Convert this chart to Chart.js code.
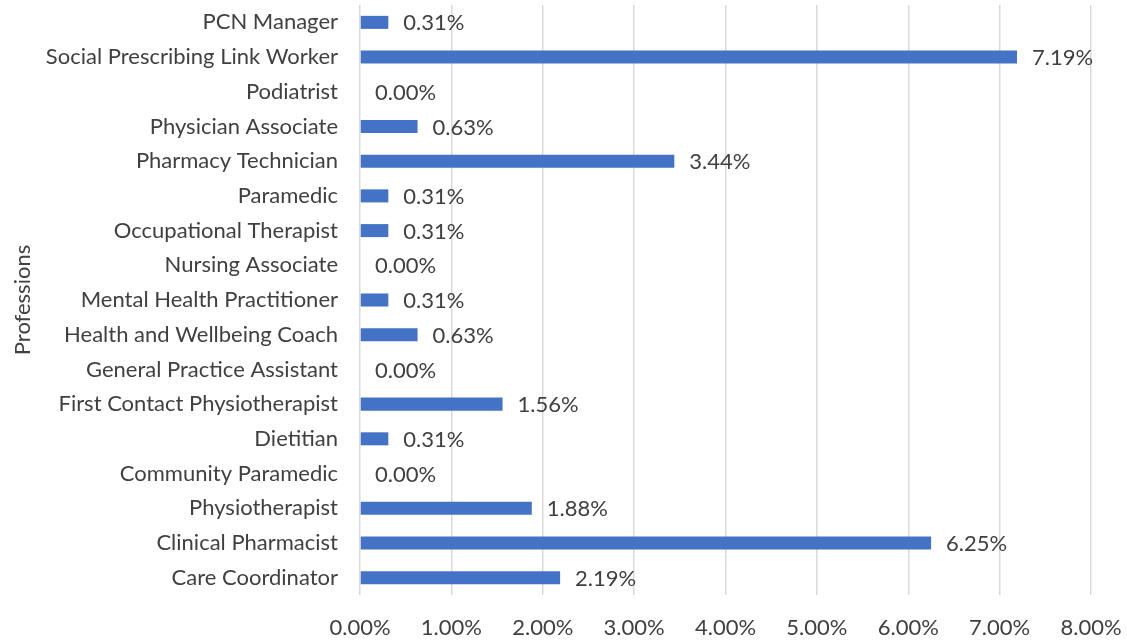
<!DOCTYPE html>
<html>
<head>
<meta charset="utf-8">
<script src="https://cdn.jsdelivr.net/npm/chart.js@4.4.1/dist/chart.umd.min.js"></script>
<style>
  html, body { margin: 0; padding: 0; background: #fff; }
</style>
</head>
<body>
<canvas id="chart" width="1127" height="642"></canvas>
<script>
// professions, top to bottom
const professions = [
  'PCN Manager',
  'Social Prescribing Link Worker',
  'Podiatrist',
  'Physician Associate',
  'Pharmacy Technician',
  'Paramedic',
  'Occupational Therapist',
  'Nursing Associate',
  'Mental Health Practitioner',
  'Health and Wellbeing Coach',
  'General Practice Assistant',
  'First Contact Physiotherapist',
  'Dietitian',
  'Community Paramedic',
  'Physiotherapist',
  'Clinical Pharmacist',
  'Care Coordinator'
];
const shares = [0.31, 7.19, 0.00, 0.63, 3.44, 0.31, 0.31, 0.00, 0.31, 0.63, 0.00, 1.56, 0.31, 0.00, 1.88, 6.25, 2.19];
const xMax = 8;
const xStep = 1;

const FONT = 'Lato, "Open Sans", sans-serif';
const FONT_SIZE = 22;
const TEXT = '#404040';

// writes the percentage just past the end of each bar
const barLabels = {
  id: 'barLabels',
  afterDatasetsDraw(chart) {
    const ctx = chart.ctx;
    const meta = chart.getDatasetMeta(0);
    ctx.save();
    ctx.font = FONT_SIZE + 'px ' + FONT;
    ctx.fillStyle = TEXT;
    ctx.textAlign = 'left';
    ctx.textBaseline = 'middle';
    meta.data.forEach((bar, i) => {
      ctx.fillText(shares[i].toFixed(2) + '%', bar.x + 15, bar.y + 1);
    });
    ctx.restore();
  }
};

new Chart(document.getElementById('chart'), {
  type: 'bar',
  data: {
    labels: professions,
    datasets: [{
      data: shares,
      backgroundColor: '#4472C4',
      borderWidth: 0,
      barPercentage: 0.75,
      categoryPercentage: 0.5
    }]
  },
  options: {
    indexAxis: 'y',
    responsive: false,
    animation: false,
    devicePixelRatio: 1,
    layout: { padding: { left: 10, right: 36, top: 5, bottom: 0 } },
    plugins: {
      legend: { display: false },
      tooltip: { enabled: false }
    },
    scales: {
      x: {
        min: 0,
        max: xMax,
        ticks: {
          stepSize: xStep,
          padding: 20,
          color: TEXT,
          font: { family: FONT, size: FONT_SIZE },
          callback: v => v.toFixed(2) + '%'
        },
        grid: { color: '#d9d9d9', lineWidth: 1.5, drawTicks: false },
        border: { display: false },
        afterFit(scale) {
          scale.height = 47;
          scale.paddingLeft = 0;
          scale.paddingRight = 0;
        }
      },
      y: {
        ticks: {
          padding: 22,
          color: TEXT,
          font: { family: FONT, size: FONT_SIZE }
        },
        grid: { display: false, drawTicks: false },
        border: { display: false },
        title: {
          display: true,
          text: 'Professions',
          color: TEXT,
          font: { family: FONT, size: FONT_SIZE },
          padding: { top: 0, bottom: 10 }
        },
        afterFit(scale) {
          scale.width = 350;
          scale.paddingTop = 0;
          scale.paddingBottom = 0;
        }
      }
    }
  },
  plugins: [barLabels]
});
</script>
</body>
</html>
